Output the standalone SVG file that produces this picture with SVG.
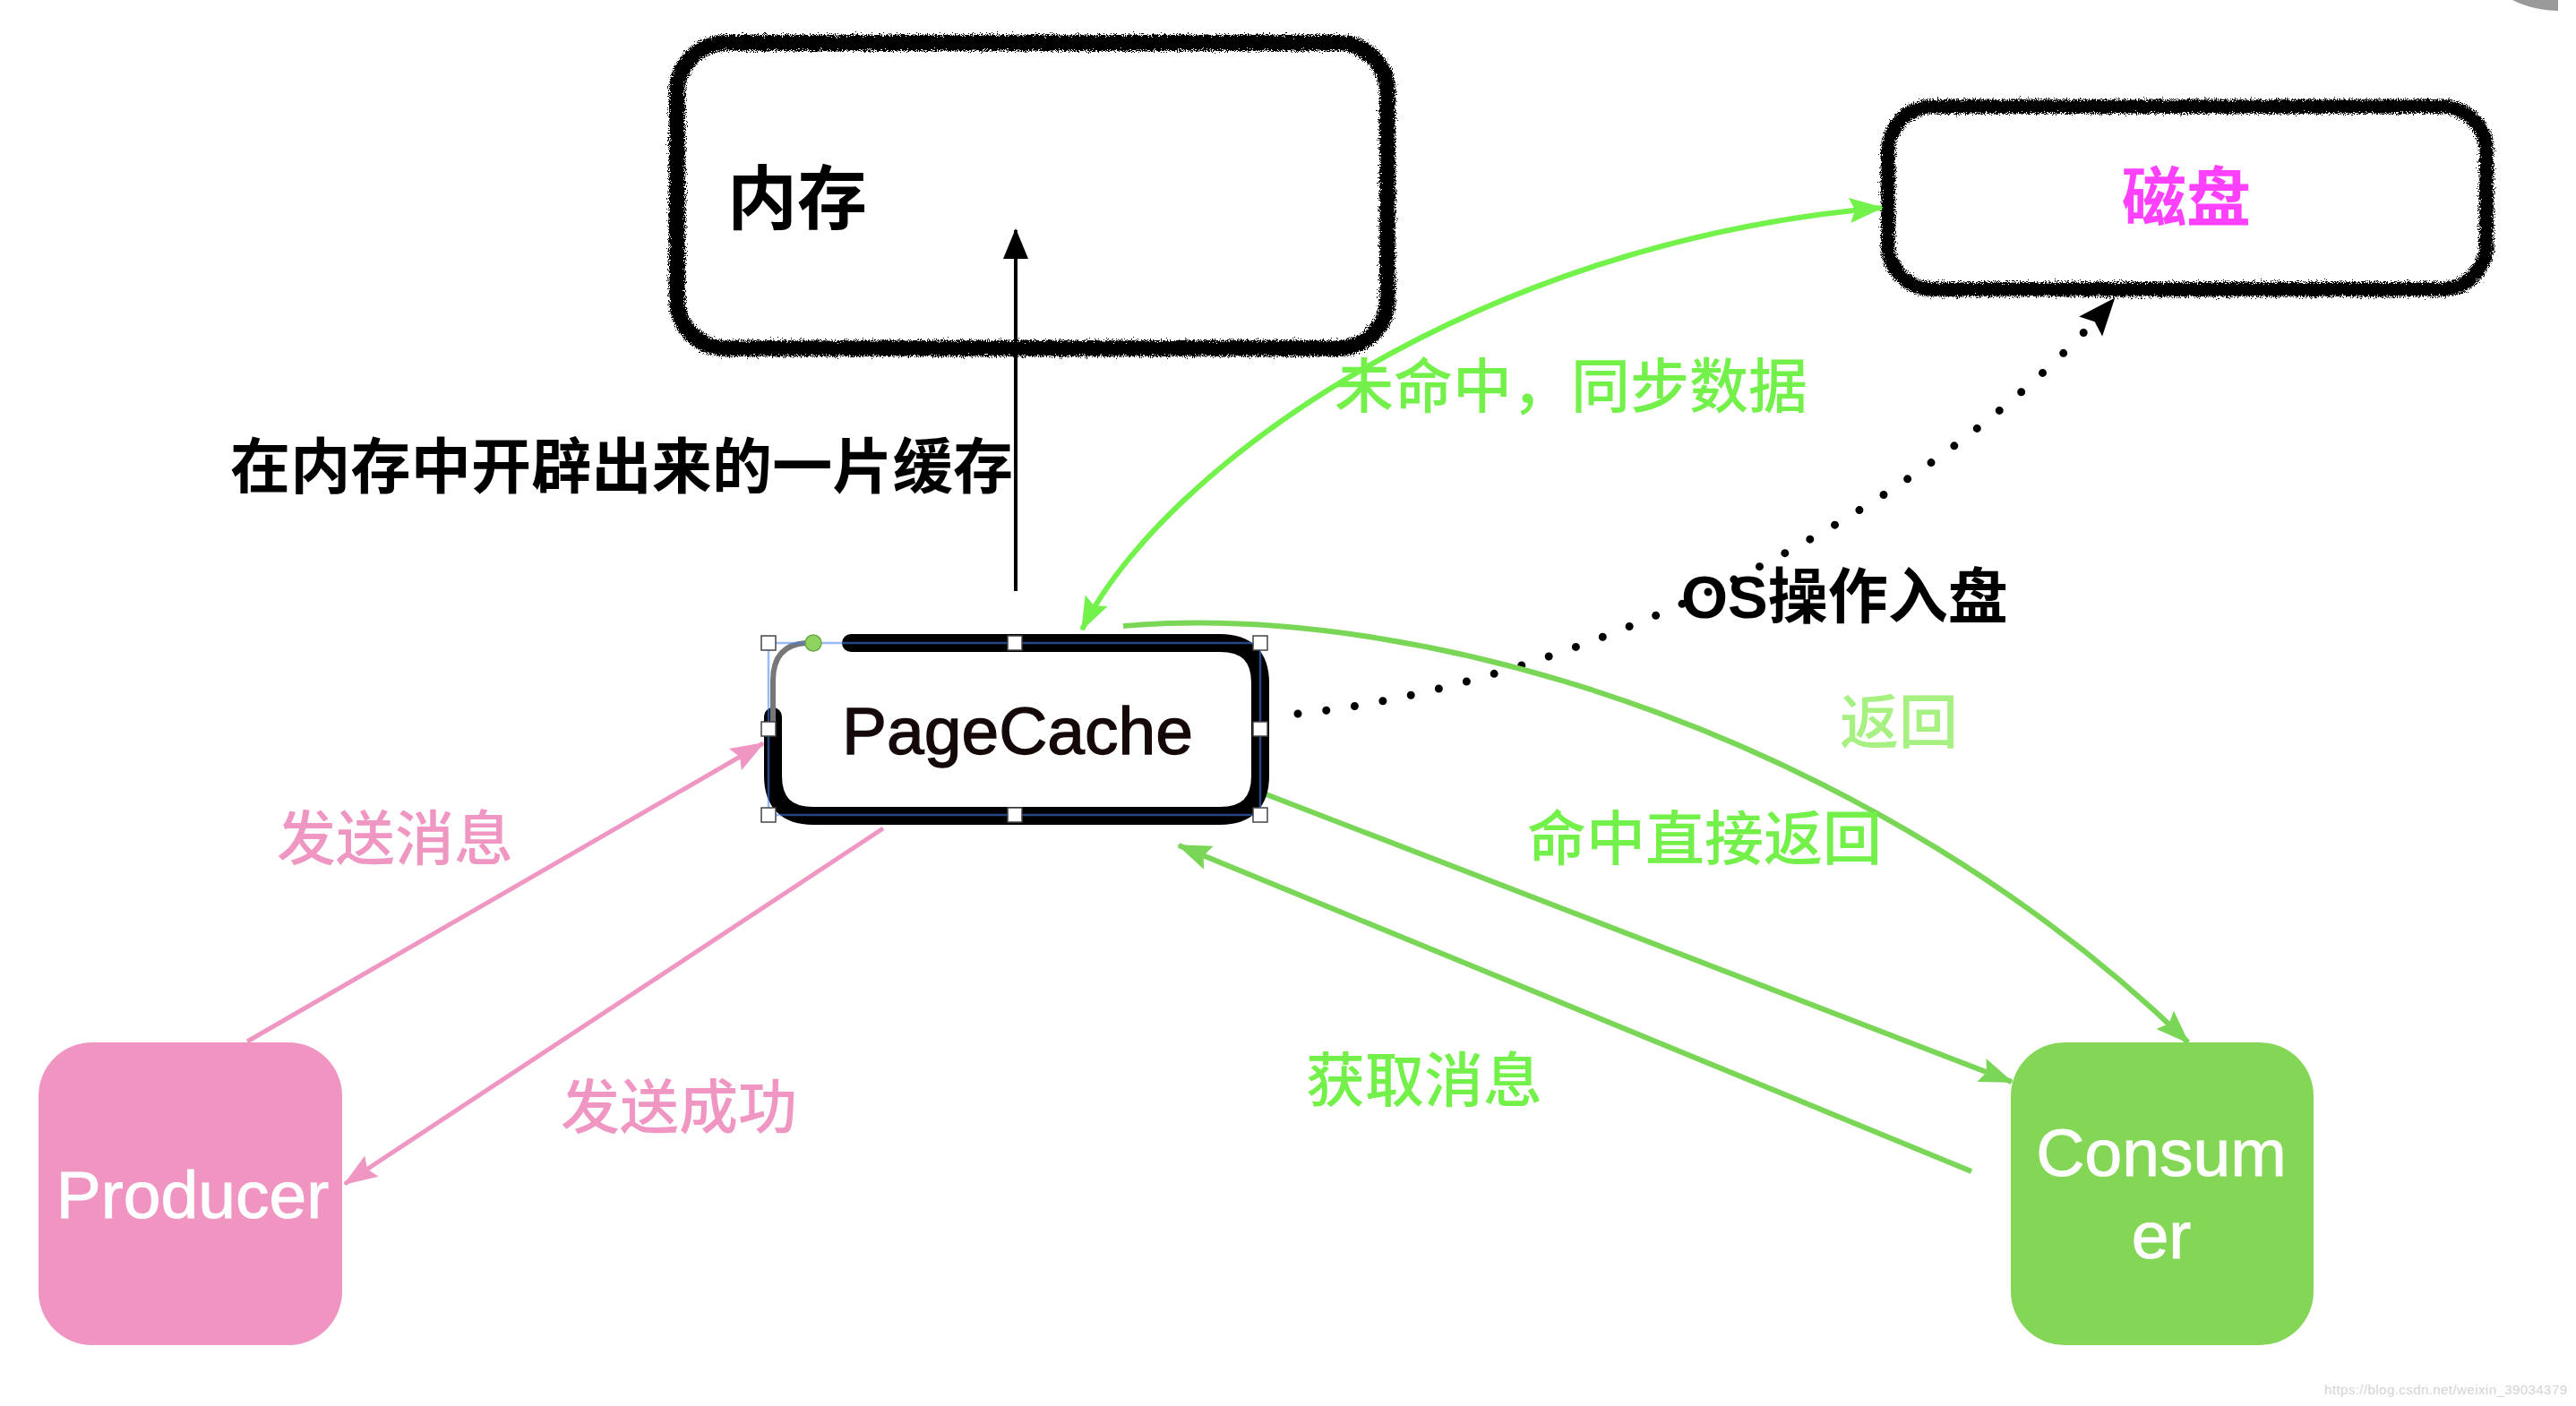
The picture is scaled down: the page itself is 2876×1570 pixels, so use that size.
<svg xmlns="http://www.w3.org/2000/svg" width="2876" height="1570" viewBox="0 0 2876 1570">
  <style>
    .cjk { font-family: "Noto Sans CJK SC", "Liberation Sans", sans-serif; }
    .lat { font-family: "Liberation Sans", "Noto Sans CJK SC", sans-serif; }
    .lbl { font-size: 66px; font-weight: 500; }
    .g { fill: #74f04a; }
    .p { fill: #f096c3; }
    .blk { fill: #000; font-weight: 700; }
    .chalk { fill: #fff; stroke: #000; filter: url(#rough); }
    .handle { fill: #fff; stroke: #444; stroke-width: 1.5; }
    .pinkline { fill: none; stroke: #f096c3; stroke-width: 5; }
    .gline { fill: none; stroke: #7ad657; stroke-width: 6; }
    .wtxt { fill: #fff; stroke: #fff; stroke-width: 1; }
  </style>
  <defs>
    <filter id="rough" x="-5%" y="-10%" width="110%" height="120%">
      <feTurbulence type="fractalNoise" baseFrequency="1.1" numOctaves="3" seed="3" result="n"/>
      <feDisplacementMap in="SourceGraphic" in2="n" scale="11" xChannelSelector="R" yChannelSelector="G"/>
    </filter>
    <marker id="aPink" viewBox="-40 -20 44 40" refX="0" refY="0" markerWidth="44" markerHeight="40" markerUnits="userSpaceOnUse" orient="auto">
      <path d="M2,0 L-36,-14 L-30,0 L-36,14 Z" fill="#f096c3"/>
    </marker>
    <marker id="aGreen" viewBox="-40 -20 44 40" refX="0" refY="0" markerWidth="44" markerHeight="40" markerUnits="userSpaceOnUse" orient="auto">
      <path d="M2,0 L-36,-14 L-30,0 L-36,14 Z" fill="#7ad657"/>
    </marker>
    <marker id="aBright" viewBox="-40 -20 44 40" refX="0" refY="0" markerWidth="44" markerHeight="40" markerUnits="userSpaceOnUse" orient="auto-start-reverse">
      <path d="M2,0 L-36,-14 L-30,0 L-36,14 Z" fill="#72f24a"/>
    </marker>
    <marker id="aBlack" viewBox="-44 -22 48 44" refX="0" refY="0" markerWidth="48" markerHeight="44" markerUnits="userSpaceOnUse" orient="auto">
      <path d="M2,0 L-40,-17 L-33,0 L-40,17 Z" fill="#000"/>
    </marker>
    <marker id="aSolid" viewBox="-36 -18 40 36" refX="0" refY="0" markerWidth="40" markerHeight="36" markerUnits="userSpaceOnUse" orient="auto">
      <path d="M2,0 L-32,-14 L-32,14 Z" fill="#000"/>
    </marker>
  </defs>

  <rect width="2876" height="1570" fill="#fff"/>
  <path d="M2805,0 C2820,8 2840,12 2856,12 L2856,0 Z" fill="#9a9a9a"/>

  <g id="memory">
    <rect class="chalk" x="756" y="48" width="793" height="341" rx="55" stroke-width="18"/>
    <text class="cjk blk" x="812" y="250" font-size="78">内存</text>
  </g>

  <g id="disk">
    <rect class="chalk" x="2108" y="119" width="668" height="204" rx="50" stroke-width="16"/>
    <text class="cjk" x="2441" y="246" font-size="72" font-weight="700" fill="#ff40ff" text-anchor="middle">磁盘</text>
  </g>

  <g id="producer">
    <rect x="43" y="1164" width="339" height="338" rx="60" fill="#f094c1"/>
    <text class="lat wtxt" x="215" y="1360" font-size="75" text-anchor="middle">Producer</text>
  </g>

  <g id="consumer">
    <rect x="2245" y="1164" width="338" height="338" rx="60" fill="#84d657"/>
    <text class="lat wtxt" x="2413" y="1313" font-size="75" text-anchor="middle">Consum</text>
    <text class="lat wtxt" x="2413" y="1405" font-size="75" text-anchor="middle">er</text>
  </g>

  <g id="connectors">
    <line x1="1134" y1="660" x2="1134" y2="257" stroke="#000" stroke-width="4" marker-end="url(#aSolid)"/>
    <path d="M1208,703 C1300,520 1650,270 2101,232" fill="none" stroke="#72f24a" stroke-width="6" marker-start="url(#aBright)" marker-end="url(#aBright)"/>
    <path d="M1449,797 C1760,765 2160,570 2360,334" fill="none" stroke="#000" stroke-width="9" stroke-linecap="round" stroke-dasharray="0 32" marker-end="url(#aBlack)"/>
    <path class="gline" d="M1254,699 C1600,670 2100,830 2443,1164" marker-end="url(#aGreen)"/>
    <line class="gline" x1="1411" y1="886" x2="2246" y2="1208" marker-end="url(#aGreen)"/>
    <line class="gline" x1="2201" y1="1308" x2="1316" y2="944" marker-end="url(#aGreen)"/>
    <line class="pinkline" x1="276" y1="1163" x2="852" y2="830" marker-end="url(#aPink)"/>
    <line class="pinkline" x1="986" y1="925" x2="385" y2="1322" marker-end="url(#aPink)"/>
  </g>

  <g id="pagecache">
    <rect x="863" y="718" width="544" height="193" rx="45" fill="#fff"/>
    <path d="M950,718 L1362,718 Q1407,718 1407,763 L1407,866 Q1407,911 1362,911 L908,911 Q863,911 863,866 L863,800" fill="none" stroke="#000" stroke-width="20" stroke-linecap="round"/>
    <path d="M863,810 L863,760 Q863,720 900,718" fill="none" stroke="#777" stroke-width="6" stroke-linecap="round"/>
    <rect x="858" y="718" width="549" height="192" fill="none" stroke="#4a7ff0" stroke-opacity="0.55" stroke-width="2.5"/>
    <rect class="handle" x="850" y="710" width="16" height="16"/>
    <rect class="handle" x="1125" y="710" width="16" height="16"/>
    <rect class="handle" x="1399" y="710" width="16" height="16"/>
    <rect class="handle" x="850" y="806" width="16" height="16"/>
    <rect class="handle" x="1399" y="806" width="16" height="16"/>
    <rect class="handle" x="850" y="902" width="16" height="16"/>
    <rect class="handle" x="1125" y="902" width="16" height="16"/>
    <rect class="handle" x="1399" y="902" width="16" height="16"/>
    <circle cx="908" cy="718" r="9" fill="#8fd460" stroke="#6aa844" stroke-width="1.5"/>
    <text class="lat" x="940" y="842" font-size="75" fill="#140808" stroke="#140808" stroke-width="1.3">PageCache</text>
  </g>

  <g id="labels">
    <text class="cjk blk" x="257" y="545" font-size="67" textLength="874">在内存中开辟出来的一片缓存</text>
    <text class="cjk lbl g" x="1490" y="455" font-size="67">未命中，同步数据</text>
    <text class="lat blk" x="1877" y="690" font-size="67">OS操作入盘</text>
    <text class="cjk lbl" x="2054" y="830" fill="#a6f182">返回</text>
    <text class="cjk lbl g" x="1705" y="960">命中直接返回</text>
    <text class="cjk lbl g" x="1458" y="1230">获取消息</text>
    <text class="cjk lbl p" x="309" y="960">发送消息</text>
    <text class="cjk lbl p" x="626" y="1260">发送成功</text>
    <text class="lat" x="2595" y="1557" font-size="15" fill="#d4d4d4" textLength="271">https://blog.csdn.net/weixin_39034379</text>
  </g>
</svg>
